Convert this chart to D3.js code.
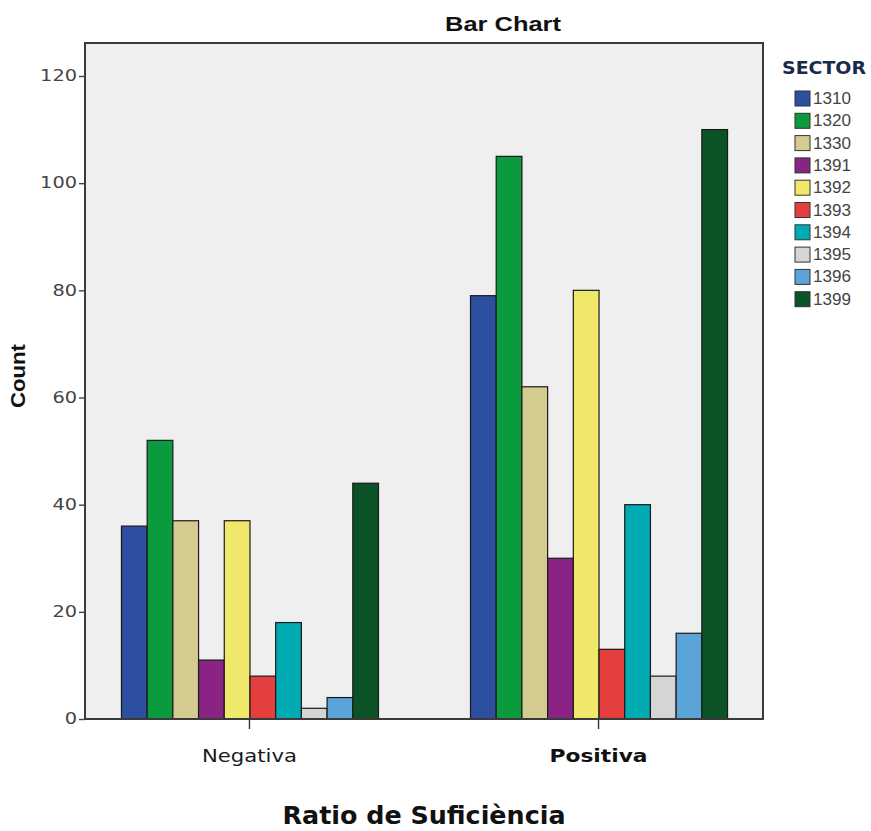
<!DOCTYPE html>
<html>
<head>
<meta charset="utf-8">
<script src="https://cdn.jsdelivr.net/npm/d3@7"></script>
<style>
  html, body { margin: 0; padding: 0; background: #fff; }
  svg { display: block; }
</style>
</head>
<body>
<svg id="chart" width="871" height="831"></svg>
<script>
const categories = ["Negativa", "Positiva"];
const sectors = ["1310", "1320", "1330", "1391", "1392", "1393", "1394", "1395", "1396", "1399"];
const negativa = [36, 52, 37, 11, 37, 8, 18, 2, 4, 44];
const positiva = [79, 105, 62, 30, 80, 13, 40, 8, 16, 110];
const sectorColors = ["#2c4f9f", "#0b9a3d", "#d3cb8f", "#8a2484", "#f0e86a", "#e53e3f", "#01abb4", "#d5d5d5", "#5ba4d7", "#0b5327"];
const yTicks = [0, 20, 40, 60, 80, 100, 120];

const seriesByCat = { "Negativa": negativa, "Positiva": positiva };

const svg = d3.select("#chart");
const plot = { left: 85, top: 43, right: 763, bottom: 719 };

const x0 = d3.scaleBand().domain(categories)
  .range([plot.left, plot.right]).paddingInner(0.2636).paddingOuter(0.103);
const x1 = d3.scaleBand().domain(sectors).range([0, x0.bandwidth()]).padding(0);
const yScale = d3.scaleLinear().domain([0, 120]).range([719, 76]);

// plot background
svg.append("rect")
  .attr("x", plot.left).attr("y", plot.top)
  .attr("width", plot.right - plot.left).attr("height", plot.bottom - plot.top)
  .attr("fill", "#efefef");

// bars
const groups = svg.append("g").selectAll("g").data(categories).join("g")
  .attr("transform", d => `translate(${x0(d)},0)`);
groups.selectAll("rect")
  .data(c => sectors.map((s, i) => ({ s, i, v: seriesByCat[c][i] })))
  .join("rect")
  .attr("x", d => x1(d.s) + 0.5)
  .attr("y", d => yScale(d.v))
  .attr("width", x1.bandwidth())
  .attr("height", d => yScale(0) - yScale(d.v))
  .attr("fill", d => sectorColors[d.i])
  .attr("stroke", "#1a1a1a")
  .attr("stroke-width", 1.2);

// plot border
svg.append("rect")
  .attr("x", plot.left).attr("y", plot.top)
  .attr("width", plot.right - plot.left).attr("height", plot.bottom - plot.top)
  .attr("fill", "none").attr("stroke", "#3a3a3a").attr("stroke-width", 2);

// y axis
const yAxis = d3.axisLeft(yScale).tickValues(yTicks).tickSize(6).tickPadding(2);
const gy = svg.append("g").attr("transform", `translate(${plot.left},0)`).call(yAxis);
gy.select(".domain").remove();
gy.selectAll(".tick line").attr("stroke", "#444").attr("stroke-width", 1.4);
gy.selectAll(".tick text")
  .attr("font-family", "DejaVu Sans, Verdana, sans-serif")
  .attr("font-size", 15)
  .attr("fill", "#444")
  .attr("textLength", d => String(d).length * 12.3)
  .attr("lengthAdjust", "spacingAndGlyphs");

// x axis (category ticks)
const xAxis = d3.axisBottom(x0).tickSize(10).tickFormat("");
const gx = svg.append("g").attr("transform", `translate(0,${plot.bottom})`).call(xAxis);
gx.select(".domain").remove();
gx.selectAll(".tick line").attr("stroke", "#333").attr("stroke-width", 1.4);

// category labels
svg.append("text")
  .attr("x", x0("Negativa") + x0.bandwidth() / 2).attr("y", 762)
  .attr("text-anchor", "middle")
  .attr("font-family", "DejaVu Sans, Verdana, sans-serif")
  .attr("font-size", 18).attr("fill", "#1a1a1a")
  .attr("textLength", 95).attr("lengthAdjust", "spacingAndGlyphs")
  .text("Negativa");
svg.append("text")
  .attr("x", x0("Positiva") + x0.bandwidth() / 2).attr("y", 762)
  .attr("text-anchor", "middle")
  .attr("font-family", "DejaVu Sans, Verdana, sans-serif")
  .attr("font-weight", "bold")
  .attr("font-size", 18).attr("fill", "#111")
  .attr("textLength", 98).attr("lengthAdjust", "spacingAndGlyphs")
  .text("Positiva");

// title
svg.append("text")
  .attr("x", 503).attr("y", 31)
  .attr("text-anchor", "middle")
  .attr("font-family", "Liberation Sans, Arial, sans-serif")
  .attr("font-weight", "bold").attr("font-size", 21).attr("fill", "#111")
  .attr("textLength", 116).attr("lengthAdjust", "spacingAndGlyphs")
  .text("Bar Chart");

// y axis title
svg.append("text")
  .attr("transform", "translate(25,376) rotate(-90)")
  .attr("text-anchor", "middle")
  .attr("font-family", "Liberation Sans, Arial, sans-serif")
  .attr("font-weight", "bold").attr("font-size", 21).attr("fill", "#111")
  .attr("textLength", 64).attr("lengthAdjust", "spacingAndGlyphs")
  .text("Count");

// x axis title
svg.append("text")
  .attr("x", 424).attr("y", 824)
  .attr("text-anchor", "middle")
  .attr("font-family", "DejaVu Sans, Verdana, sans-serif")
  .attr("font-weight", "bold").attr("font-size", 24).attr("fill", "#111")
  .attr("textLength", 283).attr("lengthAdjust", "spacingAndGlyphs")
  .text("Ratio de Suficiència");

// legend
const legend = svg.append("g");
legend.append("text")
  .attr("x", 782).attr("y", 74)
  .attr("font-family", "DejaVu Sans, Verdana, sans-serif")
  .attr("font-weight", "bold").attr("font-size", 18).attr("fill", "#1a2a4a")
  .attr("textLength", 84).attr("lengthAdjust", "spacingAndGlyphs")
  .text("SECTOR");
const items = legend.selectAll("g.item").data(sectors).join("g")
  .attr("class", "item")
  .attr("transform", (d, i) => `translate(795,${98 + i * 22.3})`);
items.append("rect")
  .attr("x", 0).attr("y", -7).attr("width", 15).attr("height", 15)
  .attr("fill", (d, i) => sectorColors[i])
  .attr("stroke", "#333").attr("stroke-width", 1);
items.append("text")
  .attr("x", 18).attr("y", 6)
  .attr("font-family", "Liberation Sans, Arial, sans-serif")
  .attr("font-size", 16).attr("fill", "#444")
  .attr("textLength", 38).attr("lengthAdjust", "spacingAndGlyphs")
  .text(d => d);
</script>
</body>
</html>
